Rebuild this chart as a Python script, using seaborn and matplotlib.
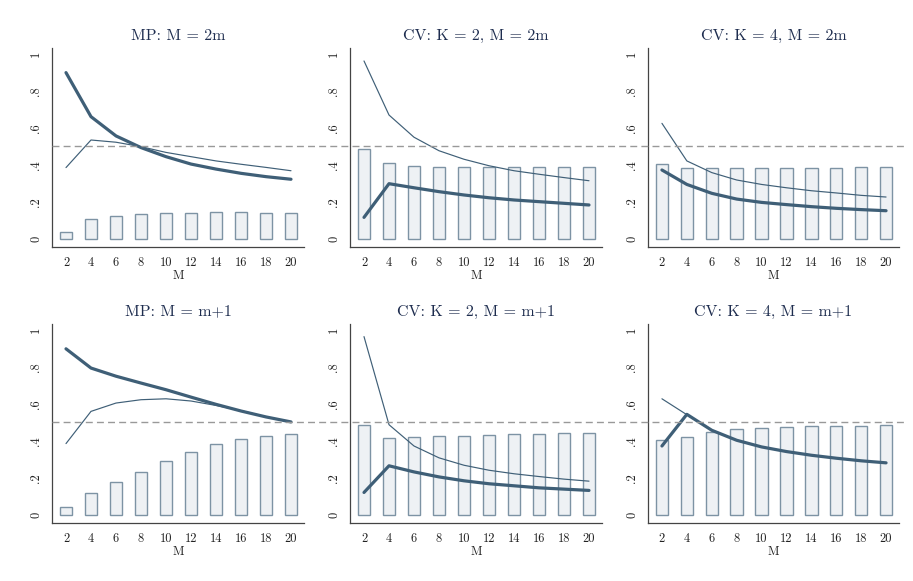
import numpy as np
import pandas as pd
import seaborn as sns
import matplotlib.pyplot as plt
import matplotlib.transforms as mtransforms
from matplotlib.lines import Line2D

sns.set_style("white")
plt.rcParams["font.family"] = ["cmr10", "DejaVu Serif"]
plt.rcParams["axes.formatter.use_mathtext"] = True

M = [2, 4, 6, 8, 10, 12, 14, 16, 18, 20]

titles = ["MP: M = 2m", "CV: K = 2, M = 2m", "CV: K = 4, M = 2m",
          "MP: M = m+1", "CV: K = 2, M = m+1", "CV: K = 4, M = m+1"]

# thick line
thick_mp_2m = [0.899, 0.661, 0.557, 0.494, 0.445, 0.405, 0.378, 0.355, 0.337, 0.323]
thick_cv2_2m = [0.117, 0.299, 0.277, 0.256, 0.238, 0.223, 0.211, 0.202, 0.193, 0.184]
thick_cv4_2m = [0.373, 0.295, 0.247, 0.216, 0.198, 0.186, 0.175, 0.166, 0.159, 0.153]
thick_mp_m1 = [0.898, 0.794, 0.750, 0.713, 0.677, 0.637, 0.598, 0.562, 0.530, 0.503]
thick_cv2_m1 = [0.122, 0.266, 0.233, 0.206, 0.185, 0.169, 0.158, 0.147, 0.140, 0.133]
thick_cv4_m1 = [0.373, 0.544, 0.458, 0.404, 0.368, 0.343, 0.323, 0.307, 0.293, 0.282]

# thin line
thin_mp_2m = [0.386, 0.535, 0.523, 0.499, 0.468, 0.445, 0.422, 0.404, 0.387, 0.369]
thin_cv2_2m = [0.962, 0.670, 0.550, 0.477, 0.431, 0.396, 0.369, 0.350, 0.332, 0.315]
thin_cv4_2m = [0.625, 0.422, 0.359, 0.319, 0.295, 0.277, 0.261, 0.249, 0.236, 0.227]
thin_mp_m1 = [0.386, 0.560, 0.605, 0.623, 0.628, 0.616, 0.592, 0.564, 0.531, 0.503]
thin_cv2_m1 = [0.964, 0.488, 0.373, 0.309, 0.269, 0.242, 0.223, 0.208, 0.194, 0.183]
thin_cv4_m1 = [0.628, 0.542, 0.458, 0.404, 0.368, 0.343, 0.323, 0.307, 0.293, 0.282]

# bars
bar_mp_2m = [0.040, 0.106, 0.126, 0.135, 0.139, 0.142, 0.144, 0.144, 0.141, 0.139]
bar_cv2_2m = [0.485, 0.413, 0.396, 0.391, 0.387, 0.389, 0.387, 0.389, 0.391, 0.391]
bar_cv4_2m = [0.404, 0.383, 0.383, 0.384, 0.385, 0.386, 0.386, 0.386, 0.387, 0.387]
bar_mp_m1 = [0.043, 0.120, 0.180, 0.235, 0.291, 0.343, 0.384, 0.409, 0.425, 0.436]
bar_cv2_m1 = [0.488, 0.418, 0.424, 0.427, 0.429, 0.433, 0.436, 0.438, 0.442, 0.443]
bar_cv4_m1 = [0.406, 0.422, 0.451, 0.465, 0.472, 0.476, 0.481, 0.483, 0.483, 0.487]

thick_all = [thick_mp_2m, thick_cv2_2m, thick_cv4_2m, thick_mp_m1, thick_cv2_m1, thick_cv4_m1]
thin_all = [thin_mp_2m, thin_cv2_2m, thin_cv4_2m, thin_mp_m1, thin_cv2_m1, thin_cv4_m1]
bar_all = [bar_mp_2m, bar_cv2_2m, bar_cv4_2m, bar_mp_m1, bar_cv2_m1, bar_cv4_m1]

line_col = "#3f5f77"
bar_fill = "#eef1f4"
bar_edge = "#7d93a4"
title_col = "#1e2d4f"

W, H = 913, 581
fig = plt.figure(figsize=(W / 100, H / 100), dpi=100)

lefts = [52, 350, 648]
widths = [252, 252, 251]
tops = [48, 324]
height = 199

axes = []
for i in range(6):
    r, c = divmod(i, 3)
    l = lefts[c] / W
    b = 1 - (tops[r] + height) / H
    ax = fig.add_axes([l, b, widths[c] / W, height / H])
    axes.append(ax)
    df = pd.DataFrame({"M": M, "bar": bar_all[i], "thick": thick_all[i], "thin": thin_all[i]})
    sns.barplot(data=df, x="M", y="bar", native_scale=True, width=0.5,
                color=bar_fill, edgecolor=bar_edge, linewidth=1.0, saturation=1, ax=ax)
    sns.lineplot(data=df, x="M", y="thin", color=line_col, linewidth=0.85, ax=ax)
    sns.lineplot(data=df, x="M", y="thick", color=line_col, linewidth=2.3, ax=ax)
    ax.set_xlim(0.88, 21.04)
    ax.set_ylim(-0.043, 1.032)
    ax.set_xticks(M)
    ax.set_xticklabels([str(m) for m in M], fontsize=9)
    ax.set_yticks([0, 0.2, 0.4, 0.6, 0.8, 1])
    ax.set_yticklabels(["0", ".2", ".4", ".6", ".8", "1"], fontsize=9, rotation=90, va="center")
    ax.set_xlabel("M", fontsize=9, labelpad=1, color="#222222")
    ax.set_ylabel("")
    ax.set_title(titles[i], fontsize=11.5, color=title_col, pad=6)
    for s in ["top", "right"]:
        ax.spines[s].set_visible(False)
    for s in ["left", "bottom"]:
        ax.spines[s].set_color("#444444")
        ax.spines[s].set_linewidth(0.9)
    ax.tick_params(axis="both", direction="out", length=4, width=0.8, color="#444444",
                   labelcolor="#222222", pad=3)

# dashed reference line at .5, running across each row
for r in range(2):
    ax = axes[r * 3]
    tr = mtransforms.blended_transform_factory(fig.transFigure, ax.transData)
    fig.add_artist(Line2D([52 / W, 906 / W], [0.5, 0.5], transform=tr,
                          color="#999999", linestyle=(0, (5, 3)), linewidth=1.0))

fig.savefig("out.png", dpi=100)
